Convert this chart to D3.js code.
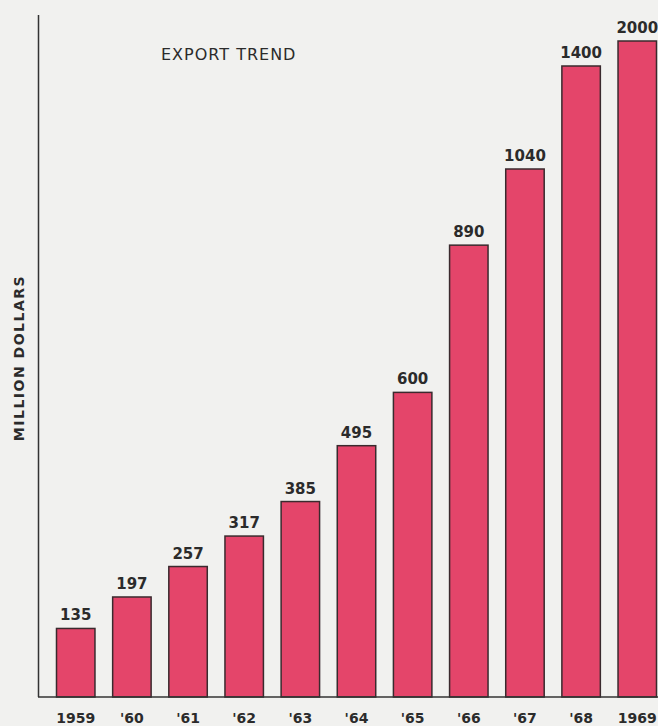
<!DOCTYPE html>
<html>
<head>
<meta charset="utf-8">
<script src="https://cdn.jsdelivr.net/npm/d3@7"></script>
<style>
  body { margin: 0; background: #f1f1ef; }
  svg { display: block; }
  text { font-family: "DejaVu Sans", sans-serif; fill: #2b2b2b; }
</style>
</head>
<body>
<div id="chart"></div>
<script>
// Export values, million dollars
const years = ["1959", "'60", "'61", "'62", "'63", "'64", "'65", "'66", "'67", "'68", "1969"];
const exports = [135, 197, 257, 317, 385, 495, 600, 890, 1040, 1400, 2000];

const width = 658, height = 726;
const baseline = 697;

const svg = d3.select("#chart")
    .append("svg")
    .attr("width", width)
    .attr("height", height);

// Bars positions
const x = d3.scaleBand()
    .domain(years)
    .range([56.5, 656.5])
    .paddingInner(0.315)
    .paddingOuter(0);

// The original drawing is roughly linear up to ~1000, then squeezed at the top
const y = d3.scaleLinear()
    .domain([0, 1040, 1400, 2000])
    .range([baseline, 169, 66, 41]);

// Draw bars
svg.selectAll("rect.bar")
    .data(exports)
    .enter()
    .append("rect")
    .attr("class", "bar")
    .attr("x", (d, i) => x(years[i]))
    .attr("y", d => y(d))
    .attr("width", x.bandwidth())
    .attr("height", d => baseline - y(d))
    .attr("fill", "#e4456a")
    .attr("stroke", "#3a2a2e")
    .attr("stroke-width", 1.5);

// Value labels
svg.selectAll("text.value")
    .data(exports)
    .enter()
    .append("text")
    .attr("class", "value")
    .attr("x", (d, i) => x(years[i]) + x.bandwidth() / 2)
    .attr("y", d => y(d) - 8)
    .attr("text-anchor", "middle")
    .style("font-size", "15px")
    .style("font-weight", "bold")
    .text(d => d);

// Axis lines
svg.append("line")
    .attr("x1", 38.5).attr("x2", 38.5)
    .attr("y1", 15).attr("y2", baseline)
    .attr("stroke", "#333").attr("stroke-width", 1.5);

svg.append("line")
    .attr("x1", 38).attr("x2", width)
    .attr("y1", baseline).attr("y2", baseline)
    .attr("stroke", "#333").attr("stroke-width", 1.5);

// Year labels
svg.selectAll("text.year")
    .data(years)
    .enter()
    .append("text")
    .attr("class", "year")
    .attr("x", d => x(d) + x.bandwidth() / 2)
    .attr("y", 723)
    .attr("text-anchor", "middle")
    .style("font-size", "14px")
    .style("font-weight", "bold")
    .text(d => d);

// Title
svg.append("text")
    .attr("x", 161)
    .attr("y", 60)
    .style("font-size", "16px")
    .style("letter-spacing", "1px")
    .text("EXPORT TREND");

// Y-axis label
svg.append("text")
    .attr("transform", "rotate(-90)")
    .attr("x", -358)
    .attr("y", 24)
    .attr("text-anchor", "middle")
    .style("font-size", "14px")
    .style("font-weight", "bold")
    .style("letter-spacing", "1.5px")
    .text("MILLION DOLLARS");
</script>
</body>
</html>
